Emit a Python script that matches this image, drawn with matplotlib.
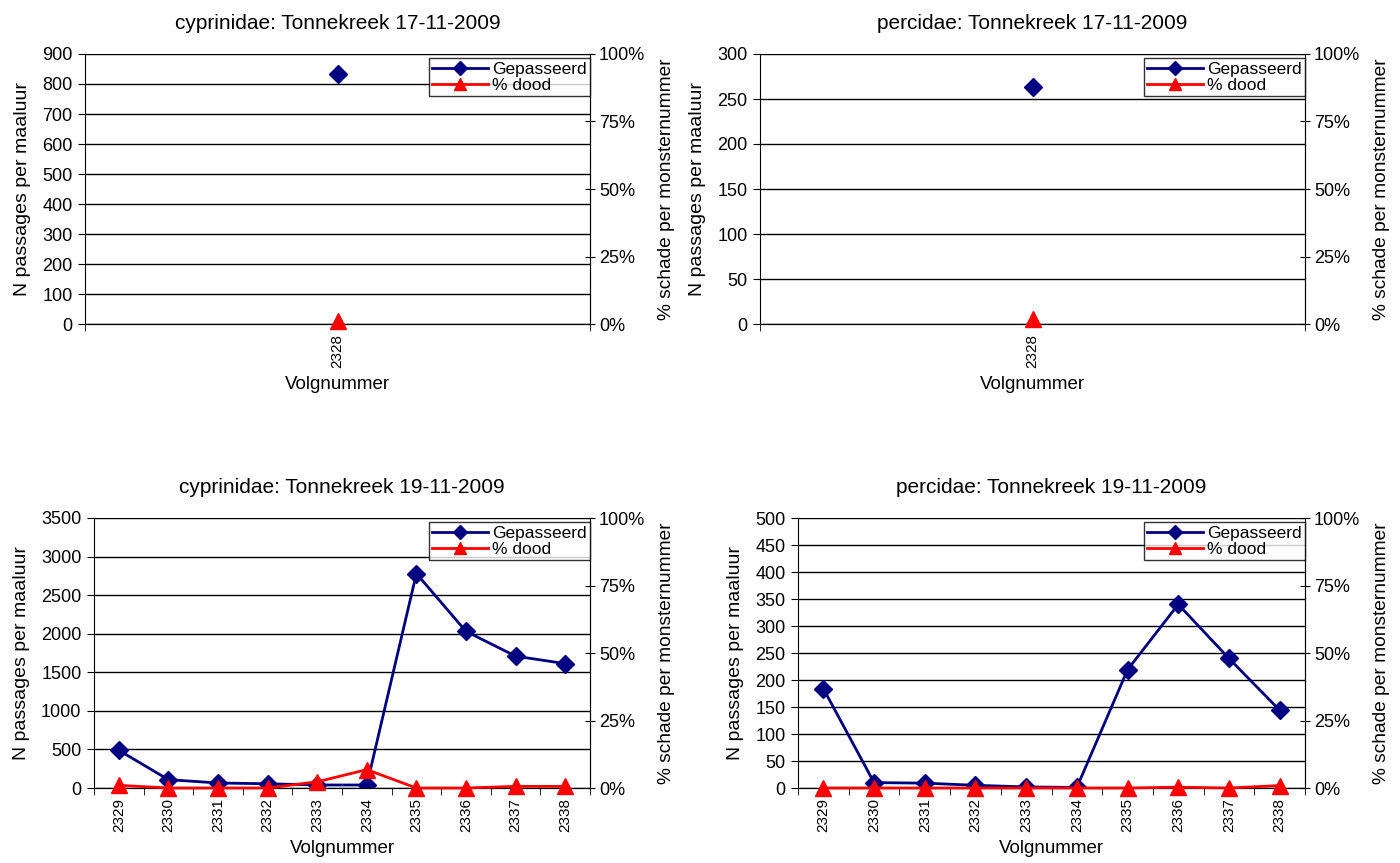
import numpy as np
import matplotlib
matplotlib.use("Agg")
import matplotlib.pyplot as plt
from matplotlib.ticker import FixedLocator, PercentFormatter

plt.rcParams["font.family"] = ["Liberation Sans", "DejaVu Sans"]
plt.rcParams["font.size"] = 13

# DATA
cats_17 = ["2328"]
cyp_17_pass = [833]
cyp_17_dood = [1.0]
per_17_pass = [263]
per_17_dood = [2.0]

cats_19 = ["2329", "2330", "2331", "2332", "2333", "2334", "2335", "2336", "2337", "2338"]
cyp_19_pass = [489, 108, 65, 55, 39, 39, 2780, 2030, 1709, 1612]
cyp_19_dood = [1.0, 0.0, 0.0, 0.0, 2.3, 6.8, 0.0, 0.0, 0.6, 0.6]
per_19_pass = [184, 10, 9, 5, 2, 1, 219, 340, 240, 144]
per_19_dood = [0.0, 0.0, 0.0, 0.0, 0.0, 0.0, 0.0, 0.3, 0.0, 0.9]

W, H = 1400, 863
NAVY = "#000080"
RED = "#ff0000"


def px_axes(fig, left, top, right, bottom):
    return fig.add_axes([left / W, (H - bottom) / H, (right - left) / W, (bottom - top) / H])


def draw_panel(ax, title, cats, passed, dood, ymax, ystep):
    n = len(cats)
    x = np.arange(n)
    ax.set_xlim(-0.5, n - 0.5)
    ax.set_ylim(0, ymax)
    ax.set_yticks(np.arange(0, ymax + 1, ystep))
    ax.yaxis.grid(True, color="black", linewidth=1)
    ax.set_axisbelow(True)
    ax.set_xticks(x)
    ax.set_xticklabels(cats, rotation=90, fontsize=11)
    ax.xaxis.set_minor_locator(FixedLocator(np.arange(n + 1) - 0.5))
    ax.tick_params(axis="x", which="major", length=0, pad=7)
    ax.tick_params(axis="x", which="minor", length=5, direction="out")
    ax.tick_params(axis="y", length=5, direction="out", labelsize=13, pad=4)
    for s in ax.spines.values():
        s.set_color("black")
    ax.spines["top"].set_visible(False)
    ax.set_title(title, fontsize=15, pad=18)
    ax.set_xlabel("Volgnummer", fontsize=13.5, labelpad=6)
    ax.set_ylabel("N passages per maaluur", fontsize=14, labelpad=8)

    l1, = ax.plot(x, passed, color=NAVY, marker="D", markersize=9.5, linewidth=2, zorder=5)

    ax2 = ax.twinx()
    ax2.set_ylim(0, 100)
    ax2.set_yticks([0, 25, 50, 75, 100])
    ax2.yaxis.set_major_formatter(PercentFormatter(decimals=0))
    ax2.tick_params(axis="y", length=7, direction="inout", labelsize=13, pad=3)
    ax2.spines["top"].set_visible(False)
    ax2.spines["left"].set_visible(False)
    ax2.spines["right"].set_color("black")
    ax2.set_ylabel("% schade per monsternummer", fontsize=13.8, labelpad=9)
    l2, = ax2.plot(x, dood, color=RED, marker="^", markersize=11, linewidth=2, zorder=5,
                   clip_on=False)

    leg = ax2.legend([l1, l2], ["Gepasseerd", "% dood"], loc="upper right",
                     bbox_to_anchor=(1.0, 0.985), fontsize=12.5, frameon=True, fancybox=False,
                     borderpad=0.2, handlelength=3.2, handletextpad=0.25, labelspacing=0.05,
                     borderaxespad=0, markerscale=0.8)
    leg.get_frame().set_edgecolor("black")
    leg.get_frame().set_linewidth(1)


fig = plt.figure(figsize=(W / 100, H / 100), dpi=100, facecolor="white")

ax = px_axes(fig, 85, 54, 590, 324)
draw_panel(ax, "cyprinidae: Tonnekreek 17-11-2009", cats_17, cyp_17_pass, cyp_17_dood, 900, 100)

ax = px_axes(fig, 760, 54, 1305, 324)
draw_panel(ax, "percidae: Tonnekreek 17-11-2009", cats_17, per_17_pass, per_17_dood, 300, 50)

ax = px_axes(fig, 94, 518, 590, 788)
draw_panel(ax, "cyprinidae: Tonnekreek 19-11-2009", cats_19, cyp_19_pass, cyp_19_dood, 3500, 500)

ax = px_axes(fig, 798, 518, 1305, 788)
draw_panel(ax, "percidae: Tonnekreek 19-11-2009", cats_19, per_19_pass, per_19_dood, 500, 50)

fig.savefig("out.png", dpi=100)
